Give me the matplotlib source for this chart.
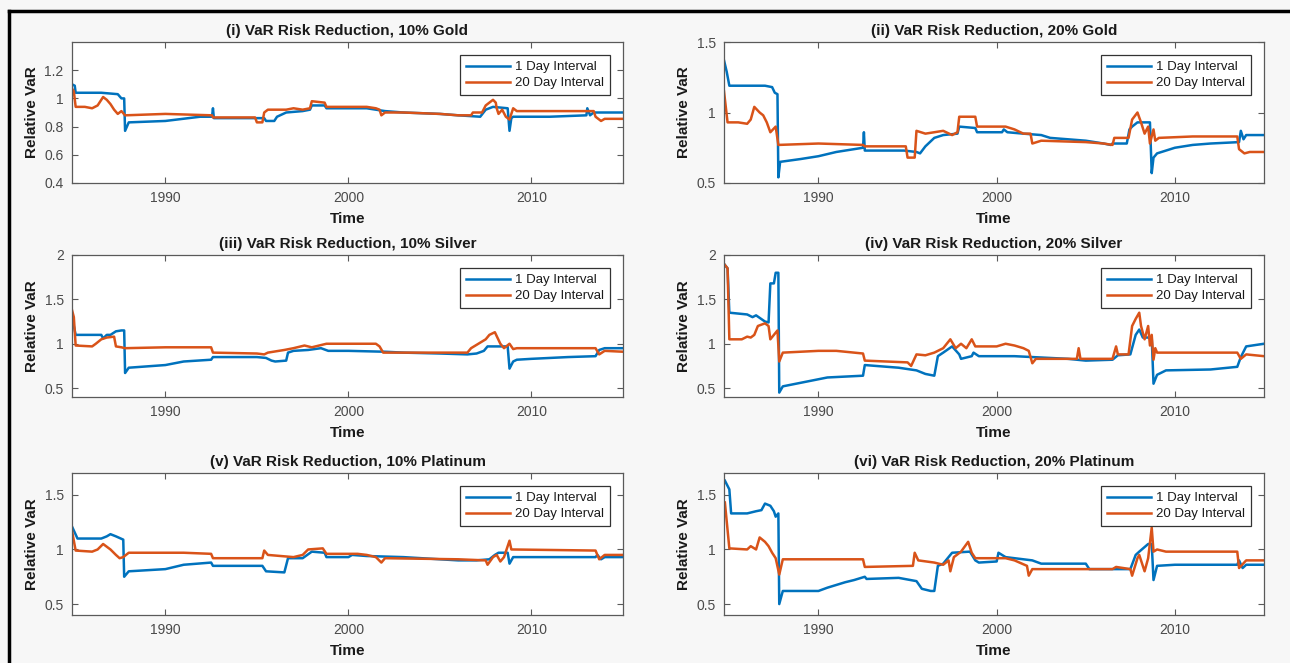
import matplotlib
matplotlib.use("Agg")
import matplotlib.pyplot as plt
from matplotlib.lines import Line2D

plt.rcParams['font.family'] = ['Liberation Sans', 'DejaVu Sans']

# ---------------- data (decimal year, relative VaR) ----------------
titles = ["(i) VaR Risk Reduction, 10% Gold", "(ii) VaR Risk Reduction, 20% Gold",
          "(iii) VaR Risk Reduction, 10% Silver", "(iv) VaR Risk Reduction, 20% Silver",
          "(v) VaR Risk Reduction, 10% Platinum", "(vi) VaR Risk Reduction, 20% Platinum"]
series_labels = ["1 Day Interval", "20 Day Interval"]
xticks = [1990, 2000, 2010]

gold10_1d = [(1984.9,1.10),(1985.05,1.09),(1985.1,1.04),(1986.5,1.04),(1987.4,1.03),(1987.6,1.00),
             (1987.75,1.00),(1987.8,0.77),(1988.0,0.83),(1990.0,0.84),(1991.9,0.87),(1992.55,0.87),
             (1992.6,0.93),(1992.65,0.86),(1995.4,0.86),(1995.5,0.84),(1995.95,0.84),(1996.1,0.87),
             (1996.6,0.90),(1997.5,0.91),(1997.9,0.92),(1998.0,0.95),(1998.7,0.95),(1998.8,0.93),
             (2001.0,0.93),(2002.0,0.91),(2003.0,0.90),(2005.0,0.89),(2006.0,0.88),(2007.2,0.87),
             (2007.5,0.92),(2007.9,0.94),(2008.7,0.93),(2008.8,0.77),(2008.9,0.86),(2009.0,0.87),
             (2011.0,0.87),(2013.0,0.88),(2013.05,0.93),(2013.2,0.88),(2013.4,0.90),(2015.0,0.90)]
gold10_20d = [(1984.9,1.07),(1985.0,1.05),(1985.1,0.94),(1985.6,0.94),(1986.0,0.93),(1986.3,0.95),
              (1986.6,1.01),(1986.8,0.99),(1987.0,0.96),(1987.2,0.92),(1987.4,0.89),(1987.6,0.91),
              (1987.8,0.88),(1990.0,0.89),(1992.55,0.88),(1992.6,0.865),(1994.9,0.865),(1995.0,0.83),
              (1995.3,0.83),(1995.4,0.90),(1995.6,0.92),(1996.6,0.92),(1997.0,0.93),(1997.5,0.92),
              (1997.9,0.93),(1998.0,0.98),(1998.7,0.97),(1998.8,0.94),(2001.0,0.94),(2001.5,0.93),
              (2001.7,0.92),(2001.8,0.88),(2002.0,0.90),(2003.0,0.90),(2005.0,0.89),(2006.0,0.88),
              (2006.7,0.88),(2006.8,0.90),(2007.3,0.90),(2007.5,0.95),(2007.9,0.99),(2008.05,0.97),
              (2008.1,0.93),(2008.2,0.89),(2008.4,0.92),(2008.6,0.87),(2008.8,0.85),(2009.0,0.93),
              (2009.2,0.91),(2013.4,0.91),(2013.5,0.87),(2013.8,0.84),(2014.0,0.855),(2015.0,0.855)]

gold20_1d = [(1984.7,1.37),(1984.85,1.29),(1985.0,1.19),(1986.0,1.19),(1987.0,1.19),(1987.4,1.18),
             (1987.55,1.14),(1987.7,1.13),(1987.75,0.54),(1987.85,0.65),(1989.0,0.67),(1990.0,0.69),
             (1991.0,0.72),(1992.5,0.75),(1992.55,0.86),(1992.6,0.73),(1994.8,0.73),(1995.5,0.72),
             (1995.7,0.71),(1996.0,0.76),(1996.5,0.82),(1997.0,0.84),(1997.8,0.85),(1997.9,0.90),
             (1998.8,0.89),(1998.9,0.86),(2000.3,0.86),(2000.4,0.88),(2000.6,0.86),(2001.5,0.85),
             (2002.5,0.84),(2003.0,0.82),(2004.0,0.81),(2005.0,0.80),(2006.0,0.78),(2006.4,0.77),
             (2006.5,0.78),(2007.3,0.78),(2007.45,0.88),(2007.6,0.90),(2007.9,0.93),(2008.6,0.93),
             (2008.7,0.57),(2008.8,0.68),(2009.0,0.71),(2010.0,0.75),(2011.0,0.77),(2012.0,0.78),
             (2013.6,0.79),(2013.7,0.87),(2013.85,0.81),(2014.0,0.84),(2015.0,0.84)]
gold20_20d = [(1984.7,1.15),(1984.9,0.93),(1985.5,0.93),(1986.0,0.92),(1986.2,0.95),(1986.4,1.04),
              (1986.7,1.00),(1986.9,0.98),(1987.1,0.93),(1987.3,0.86),(1987.6,0.90),(1987.75,0.77),
              (1990.0,0.78),(1992.5,0.77),(1992.6,0.76),(1994.9,0.76),(1995.0,0.68),(1995.4,0.68),
              (1995.5,0.87),(1996.0,0.85),(1996.5,0.86),(1997.0,0.87),(1997.5,0.84),(1997.8,0.86),
              (1997.9,0.97),(1998.8,0.97),(1998.9,0.90),(2000.5,0.90),(2001.0,0.88),(2001.5,0.85),
              (2001.9,0.85),(2002.0,0.78),(2002.5,0.80),(2005.0,0.79),(2006.0,0.78),(2006.5,0.77),
              (2006.6,0.82),(2007.4,0.82),(2007.6,0.95),(2007.9,1.00),(2008.1,0.93),(2008.3,0.85),
              (2008.5,0.90),(2008.6,0.78),(2008.8,0.88),(2008.9,0.80),(2009.1,0.82),(2011.0,0.83),
              (2013.5,0.83),(2013.6,0.74),(2013.9,0.71),(2014.2,0.72),(2015.0,0.72)]

silver10_1d = [(1984.9,1.30),(1985.1,1.10),(1986.5,1.10),(1986.6,1.06),(1986.8,1.10),(1987.0,1.10),
               (1987.3,1.14),(1987.6,1.15),(1987.75,1.15),(1987.8,0.67),(1988.0,0.73),(1990.0,0.76),
               (1991.0,0.80),(1992.5,0.82),(1992.6,0.85),(1995.0,0.85),(1995.5,0.84),(1995.8,0.81),
               (1996.0,0.80),(1996.6,0.81),(1996.7,0.90),(1997.0,0.92),(1997.8,0.93),(1998.5,0.95),
               (1998.9,0.92),(2000.0,0.92),(2002.0,0.91),(2003.0,0.90),(2005.0,0.89),(2006.5,0.88),
               (2007.0,0.89),(2007.4,0.92),(2007.6,0.97),(2008.7,0.97),(2008.8,0.72),(2009.0,0.80),
               (2009.2,0.82),(2010.0,0.83),(2012.0,0.85),(2013.5,0.86),(2013.7,0.93),(2014.0,0.95),
               (2015.0,0.95)]
silver10_20d = [(1984.9,1.38),(1985.0,1.30),(1985.1,0.98),(1986.0,0.97),(1986.2,1.00),(1986.5,1.05),
                (1986.8,1.07),(1987.2,1.08),(1987.3,0.97),(1987.6,0.96),(1987.8,0.95),(1990.0,0.96),
                (1992.5,0.96),(1992.6,0.90),(1995.0,0.89),(1995.4,0.88),(1995.6,0.90),(1996.5,0.93),
                (1997.0,0.95),(1997.6,0.98),(1998.0,0.96),(1998.8,1.00),(2001.5,1.00),(2001.7,0.97),
                (2001.9,0.90),(2006.5,0.90),(2006.7,0.95),(2007.5,1.05),(2007.7,1.10),(2008.0,1.13),
                (2008.3,1.00),(2008.5,0.95),(2008.8,1.00),(2009.0,0.94),(2009.2,0.95),(2013.5,0.95),
                (2013.7,0.88),(2014.0,0.92),(2015.0,0.91)]

silver20_1d = [(1984.7,1.90),(1984.9,1.85),(1985.0,1.35),(1986.0,1.33),(1986.3,1.30),(1986.5,1.32),
               (1987.0,1.25),(1987.2,1.24),(1987.3,1.68),(1987.5,1.68),(1987.6,1.80),(1987.75,1.80),
               (1987.8,0.45),(1988.0,0.52),(1989.0,0.56),(1990.0,0.60),(1990.5,0.62),(1992.5,0.64),
               (1992.6,0.76),(1994.5,0.73),(1995.5,0.70),(1996.0,0.66),(1996.5,0.64),(1996.7,0.86),
               (1997.0,0.90),(1997.5,0.97),(1997.9,0.88),(1998.0,0.83),(1998.6,0.86),(1998.7,0.90),
               (1999.0,0.86),(2001.0,0.86),(2002.0,0.85),(2004.0,0.83),(2005.0,0.81),(2006.5,0.82),
               (2006.8,0.87),(2007.5,0.88),(2007.8,1.10),(2008.0,1.16),(2008.2,1.07),(2008.7,1.07),
               (2008.8,0.55),(2009.0,0.65),(2009.5,0.70),(2012.0,0.71),(2013.5,0.74),(2013.7,0.85),
               (2014.0,0.97),(2015.0,1.00)]
silver20_20d = [(1984.7,1.90),(1984.9,1.85),(1985.0,1.05),(1985.7,1.05),(1986.0,1.08),(1986.2,1.07),
                (1986.4,1.10),(1986.6,1.20),(1987.0,1.23),(1987.2,1.20),(1987.3,1.05),(1987.5,1.10),
                (1987.7,1.15),(1987.8,0.80),(1988.0,0.90),(1990.0,0.92),(1991.0,0.92),(1992.5,0.89),
                (1992.6,0.81),(1995.0,0.79),(1995.2,0.75),(1995.5,0.88),(1996.0,0.87),(1996.5,0.90),
                (1997.0,0.95),(1997.4,1.05),(1997.7,0.95),(1998.0,1.00),(1998.3,0.95),(1998.6,1.05),
                (1998.8,0.97),(2000.0,0.97),(2000.5,1.00),(2001.0,0.98),(2001.5,0.95),(2001.8,0.92),
                (2002.0,0.78),(2002.2,0.83),(2004.5,0.83),(2004.6,0.95),(2004.7,0.83),(2006.5,0.83),
                (2006.7,0.97),(2006.8,0.88),(2007.4,0.88),(2007.6,1.20),(2007.8,1.28),(2008.0,1.35),
                (2008.1,1.20),(2008.3,1.05),(2008.5,1.20),(2008.6,0.98),(2008.7,1.10),(2008.8,0.82),
                (2008.9,0.95),(2009.0,0.90),(2013.5,0.90),(2013.7,0.83),(2014.0,0.88),(2015.0,0.86)]

plat10_1d = [(1984.9,1.21),(1985.2,1.10),(1986.5,1.10),(1986.8,1.12),(1987.0,1.14),(1987.3,1.12),
             (1987.7,1.09),(1987.75,0.75),(1988.0,0.80),(1990.0,0.82),(1991.0,0.86),(1992.5,0.88),
             (1992.6,0.85),(1995.3,0.85),(1995.5,0.80),(1996.5,0.79),(1996.7,0.92),(1997.5,0.92),
             (1998.0,0.98),(1998.7,0.97),(1998.8,0.93),(2000.0,0.93),(2000.2,0.95),(2001.0,0.94),
             (2003.0,0.93),(2004.0,0.92),(2005.0,0.91),(2006.0,0.90),(2007.0,0.90),(2007.7,0.91),
             (2008.0,0.95),(2008.2,0.97),(2008.7,0.97),(2008.8,0.87),(2009.0,0.93),(2013.5,0.93),
             (2013.6,0.95),(2013.8,0.91),(2014.0,0.93),(2015.0,0.93)]
plat10_20d = [(1984.9,1.17),(1985.1,0.99),(1986.0,0.98),(1986.3,1.00),(1986.6,1.05),(1987.0,1.00),
              (1987.3,0.95),(1987.5,0.92),(1987.7,0.93),(1988.0,0.97),(1991.0,0.97),(1992.5,0.96),
              (1992.6,0.92),(1995.3,0.92),(1995.4,0.99),(1995.6,0.95),(1997.0,0.93),(1997.5,0.95),
              (1997.8,1.00),(1998.6,1.01),(1998.8,0.96),(2000.5,0.96),(2001.0,0.95),(2001.5,0.93),
              (2001.8,0.88),(2002.0,0.92),(2006.0,0.91),(2007.5,0.90),(2007.6,0.86),(2007.9,0.93),
              (2008.1,0.95),(2008.3,0.89),(2008.5,0.93),(2008.8,1.08),(2008.9,1.00),(2013.5,0.99),
              (2013.7,0.91),(2014.0,0.95),(2015.0,0.95)]

plat20_1d = [(1984.75,1.63),(1985.0,1.55),(1985.1,1.33),(1986.0,1.33),(1986.5,1.35),(1986.8,1.36),
             (1987.0,1.42),(1987.3,1.40),(1987.5,1.35),(1987.6,1.30),(1987.75,1.33),(1987.8,0.50),
             (1988.0,0.62),(1990.0,0.62),(1990.5,0.65),(1991.5,0.70),(1992.0,0.72),(1992.6,0.75),
             (1992.7,0.73),(1994.5,0.74),(1995.5,0.71),(1995.8,0.64),(1996.3,0.62),(1996.5,0.62),
             (1996.7,0.85),(1997.0,0.87),(1997.5,0.97),(1998.5,0.98),(1998.8,0.90),(1999.0,0.88),
             (2000.0,0.89),(2000.1,0.97),(2000.5,0.93),(2001.0,0.92),(2002.0,0.90),(2002.5,0.87),
             (2005.0,0.87),(2005.2,0.82),(2007.5,0.82),(2007.8,0.95),(2008.0,0.98),(2008.5,1.05),
             (2008.7,1.05),(2008.8,0.72),(2009.0,0.85),(2010.0,0.86),(2013.5,0.86),(2013.6,0.90),
             (2013.8,0.83),(2014.0,0.86),(2015.0,0.86)]
plat20_20d = [(1984.75,1.43),(1985.0,1.01),(1986.0,1.00),(1986.2,1.03),(1986.5,1.00),(1986.7,1.11),
              (1987.0,1.07),(1987.2,1.03),(1987.4,0.97),(1987.6,0.92),(1987.8,0.77),(1988.0,0.91),
              (1992.5,0.91),(1992.6,0.84),(1995.3,0.85),(1995.4,0.97),(1995.6,0.90),(1996.5,0.88),
              (1997.0,0.86),(1997.3,0.90),(1997.4,0.80),(1997.6,0.93),(1998.0,0.98),(1998.4,1.07),
              (1998.6,0.97),(1998.8,0.92),(2000.5,0.92),(2001.0,0.90),(2001.7,0.85),(2001.8,0.76),
              (2002.0,0.82),(2006.5,0.82),(2006.7,0.84),(2007.5,0.82),(2007.6,0.76),(2007.9,0.92),
              (2008.0,0.95),(2008.3,0.80),(2008.5,0.92),(2008.7,1.20),(2008.8,0.98),(2009.0,1.00),
              (2009.5,0.98),(2013.5,0.98),(2013.6,0.83),(2014.0,0.90),(2015.0,0.90)]

panel_series = [(gold10_1d, gold10_20d), (gold20_1d, gold20_20d),
                (silver10_1d, silver10_20d), (silver20_1d, silver20_20d),
                (plat10_1d, plat10_20d), (plat20_1d, plat20_20d)]
ylims = [(0.4, 1.4), (0.5, 1.5), (0.4, 2.0), (0.4, 2.0), (0.4, 1.7), (0.4, 1.7)]
yticks = [[0.4, 0.6, 0.8, 1.0, 1.2], [0.5, 1.0, 1.5], [0.5, 1.0, 1.5, 2.0],
          [0.5, 1.0, 1.5, 2.0], [0.5, 1.0, 1.5], [0.5, 1.0, 1.5]]
yticklabels = [["0.4", "0.6", "0.8", "1", "1.2"], ["0.5", "1", "1.5"], ["0.5", "1", "1.5", "2"],
               ["0.5", "1", "1.5", "2"], ["0.5", "1", "1.5"], ["0.5", "1", "1.5"]]

# ---------------- style ----------------
W, H = 1290, 663
colors = ["#0072BD", "#D95319"]
bg = "#f7f7f7"
spine_c = "#5a5a5a"
text_c = "#4a4a4a"

fig = plt.figure(figsize=(W / 100, H / 100), dpi=100, facecolor=bg)

col_x = [(72, 623), (724, 1264)]
row_y = [(42, 183), (255, 397), (473, 615)]
xlims = [(1984.9, 2015.0), (1984.7, 2015.0)]

for i in range(6):
    r, c = divmod(i, 2)
    x0, x1 = col_x[c]
    y0, y1 = row_y[r]
    ax = fig.add_axes([x0 / W, 1 - y1 / H, (x1 - x0) / W, (y1 - y0) / H])
    ax.set_facecolor("white")
    for k, s in enumerate(panel_series[i]):
        t = [p[0] for p in s]
        v = [p[1] for p in s]
        ax.plot(t, v, color=colors[k], lw=1.8, label=series_labels[k])
    ax.set_xlim(*xlims[c])
    ax.set_ylim(*ylims[i])
    ax.set_xticks(xticks)
    ax.set_xticklabels([str(x) for x in xticks])
    ax.set_yticks(yticks[i])
    ax.set_yticklabels(yticklabels[i])
    ax.tick_params(direction="in", length=4.5, width=0.8, colors=spine_c, labelcolor=text_c,
                   labelsize=10, top=True, right=True, pad=6)
    for sp in ax.spines.values():
        sp.set_color(spine_c)
        sp.set_linewidth(0.9)
    ax.set_title(titles[i], fontsize=11, fontweight="bold", color="#1a1a1a", pad=5)
    ax.set_xlabel("Time", fontsize=11, fontweight="bold", color="#1a1a1a", labelpad=5)
    ax.set_ylabel("Relative VaR", fontsize=11, fontweight="bold", color="#1a1a1a", labelpad=4)
    leg = ax.legend(loc="upper right", bbox_to_anchor=(1 - 13 / (x1 - x0), 1 - 13 / (y1 - y0)),
                    borderaxespad=0, fontsize=9.5, handlelength=3.4, handletextpad=0.35,
                    labelspacing=0.3, borderpad=0.45, fancybox=False, framealpha=1,
                    edgecolor="#333333")
    leg.get_frame().set_linewidth(0.9)
    for txt in leg.get_texts():
        txt.set_color("#1a1a1a")

# black frame lines (top and left) as in the reference image
fig.add_artist(Line2D([9 / W, 1.0], [1 - 11 / H, 1 - 11 / H], transform=fig.transFigure,
                      color="black", lw=2.5))
fig.add_artist(Line2D([9 / W, 9 / W], [0.0, 1 - 11 / H], transform=fig.transFigure,
                      color="black", lw=2.5))

fig.savefig("out.png", dpi=100, facecolor=bg)
